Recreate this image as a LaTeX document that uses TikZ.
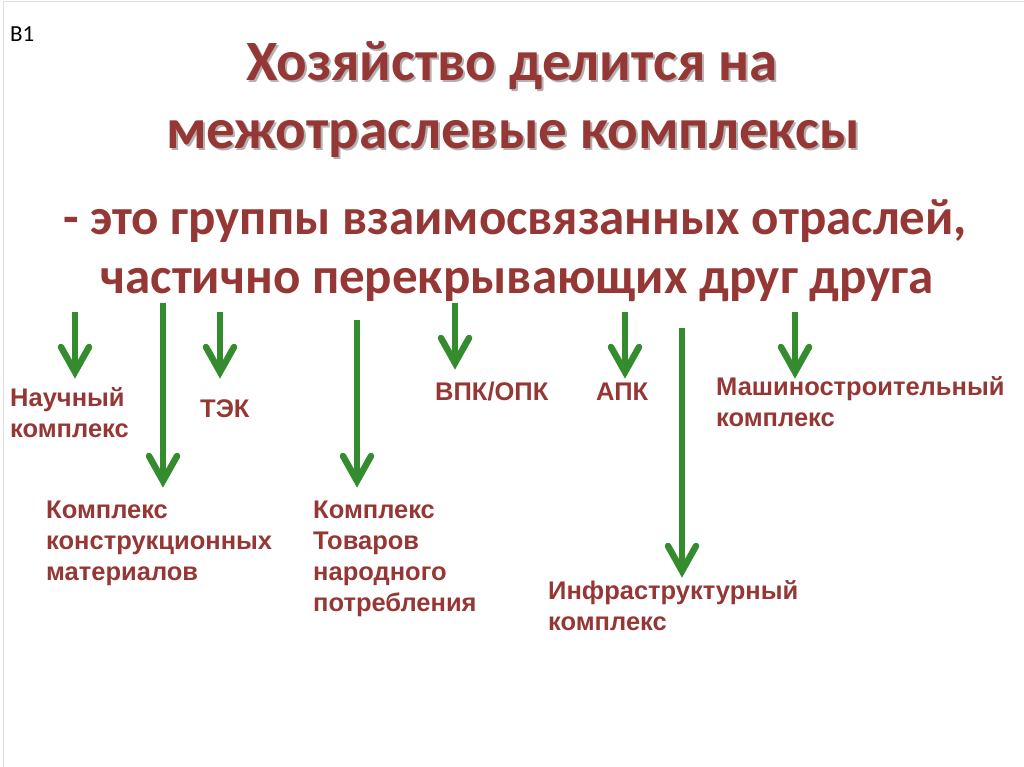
\documentclass[tikz,border=0pt]{standalone}
\usepackage{fontspec}
\setmainfont{Carlito}
\newfontfamily\lblfont{Liberation Sans}
\usetikzlibrary{calc}
\definecolor{dred}{HTML}{953735}
\definecolor{agreen}{HTML}{348C2E}
\tikzset{
  ttl/.style={font=\fontsize{57}{68}\selectfont\bfseries, text=dred, inner sep=0pt},
  ttlsh/.style={font=\fontsize{57}{68}\selectfont\bfseries, text=black!30, inner sep=0pt},
  sub/.style={font=\fontsize{51}{60}\selectfont\bfseries, text=dred, inner sep=0pt},
  lbl/.style={font=\lblfont\fontsize{25.5}{31}\selectfont\bfseries, text=dred, inner sep=0pt, align=left, anchor=base west},
  gshaft/.style={draw=agreen, line width=6.5pt, line cap=butt},
  ghead/.style={draw=agreen, line width=6.5pt, line cap=round, line join=miter}
}
\begin{document}
\begin{tikzpicture}[x=1pt,y=-1pt]
\useasboundingbox (0,0) rectangle (1024,767);
\draw[black!12, line width=1pt] (3,2) rectangle (1024,767);
\node[anchor=base west, inner sep=0pt, font=\fontsize{23}{27}\selectfont] (b1) at (10,42) {B1};
% title with soft shadow
\node[ttlsh, anchor=base] at (514,83) {Хозяйство делится на};
\node[ttlsh, anchor=base] at (515,151) {межотраслевые комплексы};
\node[ttl, anchor=base] (t1) at (512,81) {Хозяйство делится на};
\node[ttl, anchor=base] (t2) at (513,149) {межотраслевые комплексы};
% subtitle
\node[sub, anchor=base] (s1) at (515,234) {- это группы взаимосвязанных отраслей,};
\node[sub, anchor=base] (s2) at (517,293) {частично перекрывающих друг друга};
% labels (anchor = baseline of the last line)
\node[lbl] (nauch) at (10,437) {Научный\\комплекс};
\node[lbl] (tek) at (200,417) {ТЭК};
\node[lbl] (konstr) at (46,580) {Комплекс\\конструкционных\\материалов};
\node[lbl] (tnp) at (313,611) {Комплекс\\Товаров\\народного\\потребления};
\node[lbl] (vpk) at (435,400) {ВПК/ОПК};
\node[lbl] (apk) at (596,400) {АПК};
\node[lbl] (mash) at (716,426) {Машиностроительный\\комплекс};
\node[lbl] (infra) at (548,630) {Инфраструктурный\\комплекс};
% arrow coordinates (start, centre-line tip)
\coordinate (a1s) at (75,312);  \coordinate (a1e) at (75,372);
\coordinate (a2s) at (163,303); \coordinate (a2e) at (163,481);
\coordinate (a3s) at (220,312); \coordinate (a3e) at (220,372);
\coordinate (a4s) at (357,320); \coordinate (a4e) at (357,481);
\coordinate (a5s) at (455,303); \coordinate (a5e) at (455,363);
\coordinate (a6s) at (625,312); \coordinate (a6e) at (625,372);
\coordinate (a7s) at (682,328); \coordinate (a7e) at (682,571);
\coordinate (a8s) at (795,312); \coordinate (a8e) at (795,372);
\foreach \i in {1,...,8} {
  \draw[gshaft] (a\i s) -- (a\i e);
  \draw[ghead] ($(a\i e)+(-14,-25)$) -- (a\i e) -- ($(a\i e)+(14,-25)$);
}
\end{tikzpicture}
\end{document}
